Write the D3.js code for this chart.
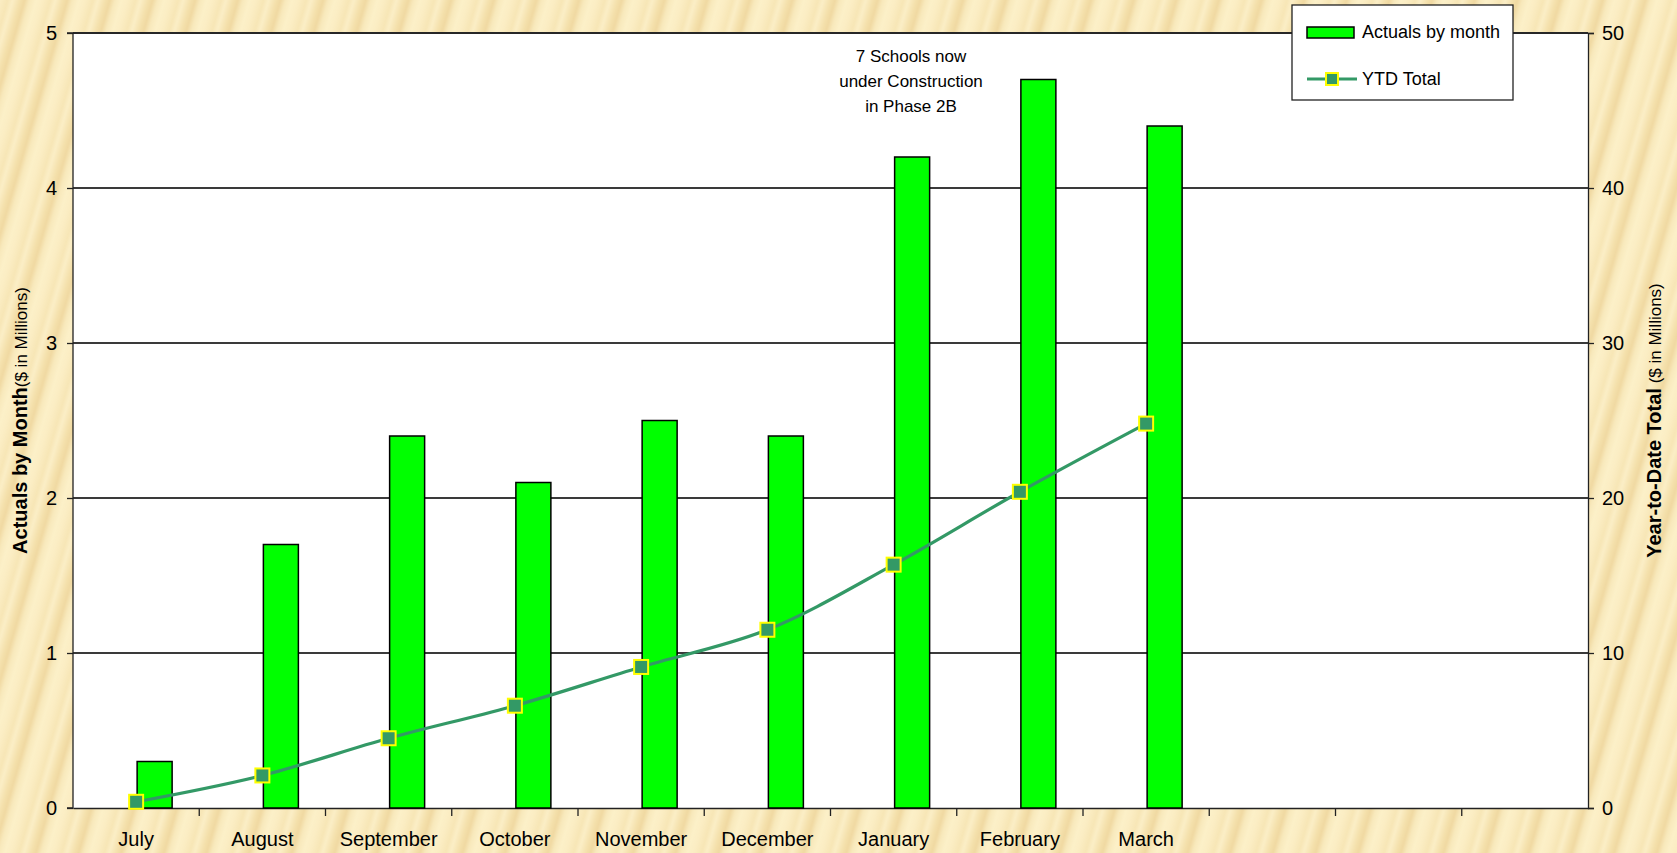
<!DOCTYPE html>
<html>
<head>
<meta charset="utf-8">
<script src="https://cdn.jsdelivr.net/npm/d3@7"></script>
<style>
  html, body { margin: 0; padding: 0; background: #f6e6b6; }
  svg { display: block; font-family: "Liberation Sans", Arial, sans-serif; }
</style>
</head>
<body>
<svg id="chart" width="1677" height="853"></svg>
<script>
// ── data ────────────────────────────────────────────────
const months    = ['July', 'August', 'September', 'October', 'November', 'December', 'January', 'February', 'March'];
const slotCount = 12;                                    // fiscal year, Jul–Jun
const actuals   = [0.3, 1.7, 2.4, 2.1, 2.5, 2.4, 4.2, 4.7, 4.4];
const ytdTotal  = [0.4, 2.1, 4.5, 6.6, 9.1, 11.5, 15.7, 20.4, 24.8];
const leftTicks  = [0, 1, 2, 3, 4, 5];
const rightTicks = [0, 10, 20, 30, 40, 50];
const noteLines  = ['7 Schools now', 'under Construction', 'in Phase 2B'];

const W = 1677, H = 853;
const margin = { top: 33, right: W - 1588, bottom: H - 808, left: 73 };
const width  = W - margin.left - margin.right;
const height = H - margin.top - margin.bottom;

const svg = d3.select('#chart');

// ── textured background (soft diagonal grain) ───────────
const defs = svg.append('defs');
const grad = defs.append('linearGradient').attr('id', 'stripeGrad')
  .attr('x1', 0).attr('x2', 1).attr('y1', 0).attr('y2', 0);
[['0%', '#fbedc3'], ['18%', '#f7e6b6'], ['30%', '#fbeec6'], ['48%', '#f4e0ab'],
 ['58%', '#f0d9a2'], ['70%', '#f8e9bc'], ['85%', '#fcf0c8'], ['100%', '#fbedc3']]
  .forEach(([o, c]) => grad.append('stop').attr('offset', o).attr('stop-color', c));
const pat = defs.append('pattern').attr('id', 'stripes')
  .attr('patternUnits', 'userSpaceOnUse')
  .attr('width', 41).attr('height', 60)
  .attr('patternTransform', 'rotate(16)');
pat.append('rect').attr('width', 41).attr('height', 60).attr('fill', 'url(#stripeGrad)');

svg.append('rect').attr('width', W).attr('height', H).attr('fill', 'url(#stripes)');

const g = svg.append('g').attr('transform', `translate(${margin.left},${margin.top})`);

// ── scales ──────────────────────────────────────────────
const x  = d3.scaleBand().domain(d3.range(slotCount)).range([0, width]).padding(0);
const yL = d3.scaleLinear().domain([0, 5]).range([height, 0]);
const yR = d3.scaleLinear().domain([0, 50]).range([height, 0]);
const cx = i => x(i) + x.bandwidth() / 2;

// plot area
g.append('rect').attr('width', width).attr('height', height).attr('fill', '#fff');

// gridlines
g.selectAll('.grid').data(leftTicks.slice(1)).enter().append('line')
  .attr('x1', 0).attr('x2', width)
  .attr('y1', d => yL(d)).attr('y2', d => yL(d))
  .attr('stroke', '#3a3a3a').attr('stroke-width', 1.2).attr('shape-rendering', 'crispEdges');

// ── axes ────────────────────────────────────────────────
const axL = g.append('g').call(d3.axisLeft(yL).tickValues(leftTicks).tickFormat(d3.format('d'))
  .tickSize(6).tickPadding(10));
const axR = g.append('g').attr('transform', `translate(${width},0)`)
  .call(d3.axisRight(yR).tickValues(rightTicks).tickSize(6).tickPadding(8));
const axB = g.append('g').attr('transform', `translate(0,${height})`)
  .call(d3.axisBottom(x).tickSize(0).tickFormat(i => months[i] || '').tickPadding(24));

[axL, axR, axB].forEach(a => {
  a.select('.domain').attr('stroke', '#222').attr('stroke-width', 1.3);
  a.selectAll('.tick line').attr('stroke', '#222').attr('stroke-width', 1.3);
  a.selectAll('text').attr('font-size', 20).attr('fill', '#000')
    .attr('font-family', '"Liberation Sans", Arial, sans-serif');
});
axL.select('.domain').attr('d', `M-6,0H0V${height}H-6`);

// category boundary ticks below the axis
axB.selectAll('.bound').data(d3.range(1, slotCount)).enter().append('line')
  .attr('x1', i => x(i)).attr('x2', i => x(i))
  .attr('y1', 0).attr('y2', 8)
  .attr('stroke', '#222').attr('stroke-width', 1.3);

// top border
g.append('line').attr('x1', 0).attr('x2', width).attr('y1', 0).attr('y2', 0)
  .attr('stroke', '#222').attr('stroke-width', 1.3);

// ── bars (left edge sits on the slot centre) ────────────
const barW = 35;
g.selectAll('.bar').data(actuals).enter().append('rect')
  .attr('x', (d, i) => cx(i) + 1)
  .attr('y', d => yL(d))
  .attr('width', barW)
  .attr('height', d => yL(0) - yL(d))
  .attr('fill', '#00ff00')
  .attr('stroke', '#000').attr('stroke-width', 1.5);

// ── YTD line ────────────────────────────────────────────
const line = d3.line()
  .x((d, i) => cx(i))
  .y(d => yR(d))
  .curve(d3.curveCatmullRom.alpha(0.5));
g.append('path').datum(ytdTotal)
  .attr('d', line).attr('fill', 'none')
  .attr('stroke', '#339966').attr('stroke-width', 3.2);

const mk = 14;
g.selectAll('.mk').data(ytdTotal).enter().append('rect')
  .attr('x', (d, i) => cx(i) - mk / 2)
  .attr('y', d => yR(d) - mk / 2)
  .attr('width', mk).attr('height', mk)
  .attr('fill', '#339966')
  .attr('stroke', '#ffff00').attr('stroke-width', 2);

// ── annotation ──────────────────────────────────────────
const note = svg.append('text').attr('text-anchor', 'middle')
  .attr('font-size', 17).attr('fill', '#000');
noteLines.forEach((t, i) => note.append('tspan')
  .attr('x', 911).attr('y', 62 + i * 25).text(t));

// ── axis titles ─────────────────────────────────────────
const ttlL = svg.append('text')
  .attr('transform', `translate(27,${margin.top + height / 2}) rotate(-90)`)
  .attr('text-anchor', 'middle').attr('fill', '#000');
ttlL.append('tspan').attr('font-weight', 'bold').attr('font-size', 20).text('Actuals by Month');
ttlL.append('tspan').attr('font-size', 17).text('($ in Millions)');

const ttlR = svg.append('text')
  .attr('transform', `translate(1661,${margin.top + height / 2}) rotate(-90)`)
  .attr('text-anchor', 'middle').attr('fill', '#000');
ttlR.append('tspan').attr('font-weight', 'bold').attr('font-size', 20).text('Year-to-Date Total');
ttlR.append('tspan').attr('font-size', 17).text(' ($ in Millions)');

// ── legend ──────────────────────────────────────────────
const lg = svg.append('g').attr('transform', 'translate(1292,5)');
lg.append('rect').attr('width', 221).attr('height', 95)
  .attr('fill', '#fff').attr('stroke', '#222').attr('stroke-width', 1.3);
lg.append('rect').attr('x', 15).attr('y', 22).attr('width', 47).attr('height', 11)
  .attr('fill', '#00ff00').attr('stroke', '#000').attr('stroke-width', 1.5);
lg.append('text').attr('x', 70).attr('y', 33).attr('font-size', 18).text('Actuals by month');
lg.append('line').attr('x1', 15).attr('x2', 65).attr('y1', 74).attr('y2', 74)
  .attr('stroke', '#339966').attr('stroke-width', 3.2);
lg.append('rect').attr('x', 34).attr('y', 68).attr('width', 12).attr('height', 12)
  .attr('fill', '#339966').attr('stroke', '#ffff00').attr('stroke-width', 2);
lg.append('text').attr('x', 70).attr('y', 80).attr('font-size', 18).text('YTD Total');
</script>
</body>
</html>
